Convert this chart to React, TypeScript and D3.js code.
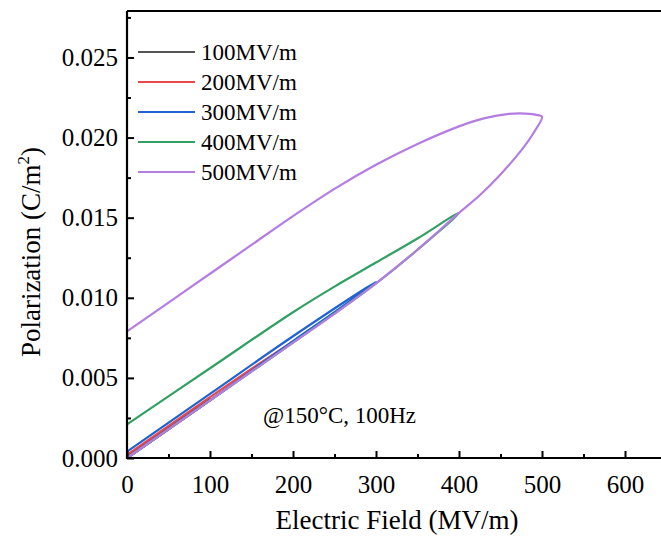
import React, { useEffect, useRef } from 'react'
import * as d3 from 'd3'

// P-E loops: [E (MV/m), P (C/m^2)]
const loop100: [number, number][] = [[0, 0], [50, 0.0018], [100, 0.0037], [50, 0.0019], [0, 0.0001]]
const loop200: [number, number][] = [[0, 0], [100, 0.0036], [200, 0.0073], [100, 0.0038], [0, 0.0002]]
const loop300: [number, number][] = [
  [0, 0], [100, 0.0036], [200, 0.0073], [250, 0.0091], [300, 0.011],
  [200, 0.0076], [100, 0.004], [0, 0.0004],
]
const loop400: [number, number][] = [
  [0, 0], [100, 0.0036], [200, 0.0072], [300, 0.0109], [350, 0.013], [400, 0.0153],
  [350, 0.0137], [300, 0.0122], [250, 0.0107],
  [200, 0.0091], [100, 0.0056], [0, 0.0021],
]
const loop500: [number, number][] = [
  [0, 0], [100, 0.0036], [200, 0.0072], [250, 0.009], [300, 0.0109], [350, 0.013],
  [400, 0.0153], [425, 0.0164], [450, 0.0177], [475, 0.0192], [490, 0.0203], [500, 0.0213],
  [495, 0.0214], [480, 0.0215], [460, 0.02148], [430, 0.0212], [400, 0.0207], [350, 0.0196],
  [300, 0.0183], [250, 0.0168], [200, 0.0151], [150, 0.0133], [100, 0.0115], [50, 0.0097], [0, 0.0079],
]

const loops = [loop100, loop200, loop300, loop400, loop500]
const legendLabels = ['100MV/m', '200MV/m', '300MV/m', '400MV/m', '500MV/m']
const colors = ['#555555', '#e8474f', '#1f63d2', '#33a063', '#b47de2']

const xTicks = [0, 100, 200, 300, 400, 500, 600]
const xMinorTicks = [50, 150, 250, 350, 450, 550, 650]
const yTicks = [0, 0.005, 0.01, 0.015, 0.02, 0.025]
const yMinorTicks = [0.0025, 0.0075, 0.0125, 0.0175, 0.0225, 0.0275]

const FONT = '"Liberation Serif", "Times New Roman", serif'

export default function App() {
  const ref = useRef<SVGSVGElement>(null)

  useEffect(() => {
    const svg = d3.select(ref.current)
    svg.selectAll('*').remove()

    const left = 127, bottom = 458, top = 11, right = 666.5
    const x = d3.scaleLinear().domain([0, 650]).range([left, right])
    const y = d3.scaleLinear().domain([0, 0.0279]).range([bottom, top])

    // data
    const line = d3.line<[number, number]>()
      .x(d => x(d[0]))
      .y(d => y(d[1]))
      .curve(d3.curveCatmullRom.alpha(0.5))

    loops.forEach((loop, i) => {
      svg.append('path')
        .attr('d', line(loop))
        .attr('fill', 'none')
        .attr('stroke', colors[i])
        .attr('stroke-width', 2.2)
        .attr('stroke-linejoin', 'round')
    })

    // axes, ticks inside
    const xAxis = svg.append('g').attr('transform', `translate(0,${bottom})`)
      .call(d3.axisBottom(x).tickValues(xTicks).tickSize(-7).tickPadding(17).tickFormat(d3.format('d')))
    const xMinor = svg.append('g').attr('transform', `translate(0,${bottom})`)
      .call(d3.axisBottom(x).tickValues(xMinorTicks).tickSize(-4).tickFormat(() => ''))
    const yAxis = svg.append('g').attr('transform', `translate(${left},0)`)
      .call(d3.axisLeft(y).tickValues(yTicks).tickSize(-7).tickPadding(9).tickFormat(d3.format('.3f')))
    const yMinor = svg.append('g').attr('transform', `translate(${left},0)`)
      .call(d3.axisLeft(y).tickValues(yMinorTicks).tickSize(-4).tickFormat(() => ''))

    ;[xAxis, xMinor, yAxis, yMinor].forEach(g => {
      g.select('.domain').remove()
      g.selectAll('line').attr('stroke', '#000').attr('stroke-width', 2)
      g.selectAll('text').attr('font-family', FONT).attr('font-size', 25).attr('fill', '#000')
    })
    xAxis.selectAll('text').attr('dy', '0.71em')

    svg.append('line').attr('x1', left).attr('x2', right).attr('y1', bottom).attr('y2', bottom)
      .attr('stroke', '#000').attr('stroke-width', 2.2)
    svg.append('line').attr('x1', left).attr('x2', left).attr('y1', top).attr('y2', bottom + 1)
      .attr('stroke', '#000').attr('stroke-width', 2.2)
    svg.append('line').attr('x1', left).attr('x2', right).attr('y1', top).attr('y2', top)
      .attr('stroke', '#000').attr('stroke-width', 2.2)

    // titles
    svg.append('text')
      .attr('x', 397).attr('y', 529)
      .attr('text-anchor', 'middle')
      .attr('font-family', FONT).attr('font-size', 27)
      .text('Electric Field (MV/m)')

    const yt = svg.append('text')
      .attr('transform', 'translate(40,252) rotate(-90)')
      .attr('text-anchor', 'middle')
      .attr('font-family', FONT).attr('font-size', 27)
    yt.append('tspan').text('Polarization (C/m')
    yt.append('tspan').attr('font-size', 17).attr('dy', -11).text('2')
    yt.append('tspan').attr('dy', 11).text(')')

    svg.append('text')
      .attr('x', 263).attr('y', 423)
      .attr('font-family', FONT).attr('font-size', 23)
      .text('@150\u00B0C, 100Hz')

    // legend
    legendLabels.forEach((lab, i) => {
      const ly = 52 + i * 30
      svg.append('line').attr('x1', 138).attr('x2', 195).attr('y1', ly).attr('y2', ly)
        .attr('stroke', colors[i]).attr('stroke-width', 2.2)
      svg.append('text').attr('x', 201).attr('y', ly + 8)
        .attr('font-family', FONT).attr('font-size', 23)
        .text(lab)
    })
  }, [])

  return (
    <svg ref={ref} width={661} height={541}
      style={{ position: 'absolute', left: 0, top: 0, background: '#fff' }} />
  )
}
